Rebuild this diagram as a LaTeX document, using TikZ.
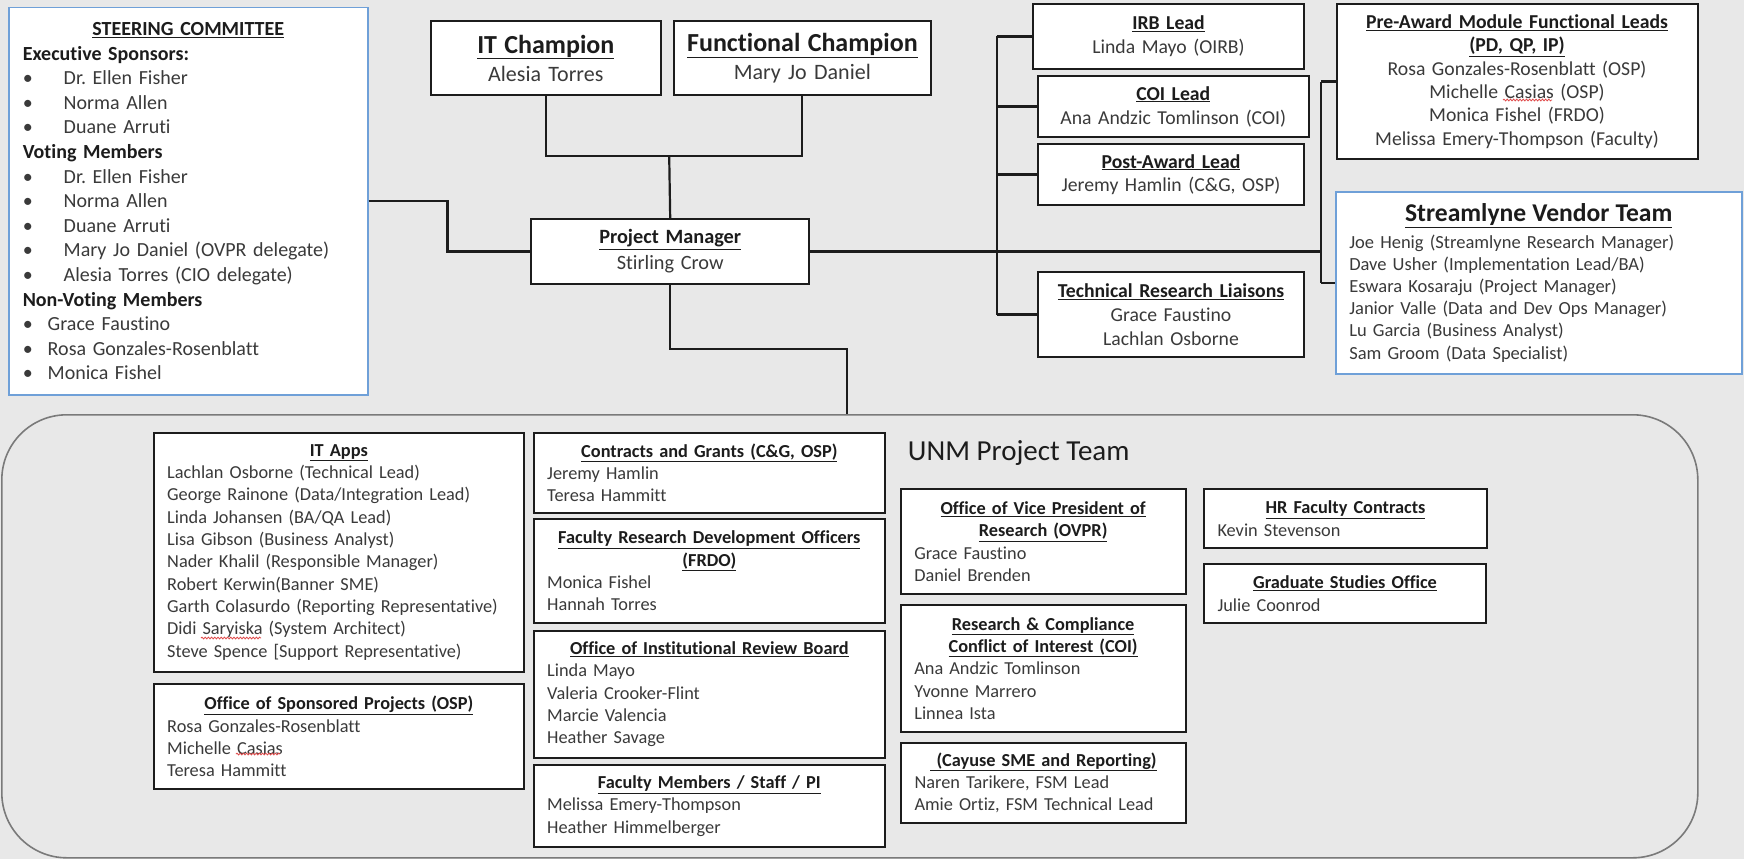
\documentclass[tikz,border=0pt]{standalone}
\usepackage{fontspec}
\setmainfont[Ligatures=NoCommon]{Carlito}
\frenchspacing
\usetikzlibrary{decorations.pathmorphing}
\definecolor{bg}{HTML}{E8E8E8}
\definecolor{ink}{HTML}{1C1C1C}
\definecolor{body}{HTML}{3A3A3A}
\definecolor{vblue}{HTML}{6FA0D8}
\definecolor{rrgray}{HTML}{7A7A7A}
\definecolor{squig}{HTML}{E04848}
\newcommand\ttl[1]{\textcolor{ink}{\textbf{\underline{#1}}}}
\newcommand\ctr[1]{\noindent\hbox to\hsize{\hfil#1\hfil}}
\newcommand\hd[1]{\textcolor{ink}{\textbf{#1}}}
\newcommand\bltA[1]{\makebox[41pt][l]{\textbullet}#1}
\newcommand\bltB[1]{\makebox[25pt][l]{\textbullet}#1}
\newcommand\orgbox[7][]{%
  \pgfmathsetmacro\obw{#5-#3}%
  \pgfmathsetmacro\obh{#6-#4}%
  \pgfmathsetmacro\obt{#5-#3-27}%
  \node[box,anchor=north west,minimum width=\obw pt,minimum height=\obh pt,text width=\obt pt,#1] (#2) at (#3,#4) {#7};}
\begin{document}
\begin{tikzpicture}[x=1pt,y=-1pt,
  box/.style={draw=ink,line width=2pt,fill=white,inner xsep=13.5pt,inner ysep=0pt,
    text=body,align=left,font=\fontsize{18.3}{22.3}\selectfont},
  cbox/.style={align=center},
  vbox/.style={draw=vblue,line width=1.5pt},
  conn/.style={draw=ink,line width=2.2pt},
  squiggle/.style={draw=squig,line width=0.8pt,decorate,
    decoration={snake,amplitude=0.9pt,segment length=3.2pt}}]
\useasboundingbox (0,0) rectangle (1744,859);
\fill[bg] (0,0) rectangle (1744,859);

% UNM project team frame
\node[draw=rrgray,line width=1.6pt,rounded corners=65pt,anchor=north west,
  minimum width=1696pt,minimum height=443pt,inner sep=0pt] (unm) at (1,414) {};
\node[anchor=west,inner sep=0pt,text=ink,font=\fontsize{29}{32}\selectfont] (unmlbl) at (907.7,453) {UNM Project Team};

% Steering committee
\orgbox[vbox,fill=white,inner xsep=14pt,font=\fontsize{20}{24.6}\selectfont]{steer}{8}{7}{366}{394}{%
\ctr{\ttl{STEERING COMMITTEE}}\\
\hd{Executive Sponsors:}\\
\bltA{Dr. Ellen Fisher}\\
\bltA{Norma Allen}\\
\bltA{Duane Arruti}\\
\hd{Voting Members}\\
\bltA{Dr. Ellen Fisher}\\
\bltA{Norma Allen}\\
\bltA{Duane Arruti}\\
\bltA{Mary Jo Daniel (OVPR delegate)}\\
\bltA{Alesia Torres (CIO delegate)}\\
\hd{Non-Voting Members}\\
\bltB{Grace Faustino}\\
\bltB{Rosa Gonzales-Rosenblatt}\\
\bltB{Monica Fishel}}

% Champions and PM
\orgbox[cbox,font=\fontsize{22}{28}\selectfont]{itc}{429.6}{20}{660}{94}{%
{\fontsize{26}{28}\selectfont\ttl{IT Champion}}\\Alesia Torres}
\orgbox[cbox,font=\fontsize{22}{28}\selectfont]{fc}{672.6}{20}{930}{94}{%
{\fontsize{26}{28}\selectfont\ttl{Functional Champion}}\\Mary Jo Daniel}
\orgbox[cbox,font=\fontsize{20.3}{26}\selectfont]{pm}{530}{218}{808.4}{283}{%
\ttl{Project Manager}\\Stirling Crow}

% Leads
\orgbox[cbox,font=\fontsize{19.7}{24}\selectfont]{irb}{1032}{3}{1303}{68}{%
\ttl{IRB Lead}\\Linda Mayo (OIRB)}
\orgbox[cbox,font=\fontsize{19.7}{24}\selectfont]{coi}{1037}{75}{1307.5}{136}{%
\ttl{COI Lead}\\Ana Andzic Tomlinson (COI)}
\orgbox[cbox,font=\fontsize{19.7}{23.4}\selectfont]{post}{1037}{143}{1303}{204}{%
\ttl{Post-Award Lead}\\Jeremy Hamlin (C\&G, OSP)}
\orgbox[cbox,font=\fontsize{19.7}{24}\selectfont]{trl}{1037}{271}{1303}{356}{%
\ttl{Technical Research Liaisons}\\Grace Faustino\\Lachlan Osborne}
\orgbox[cbox,font=\fontsize{19.7}{23.4}\selectfont]{pre}{1335.5}{3}{1696.6}{158}{%
\ttl{Pre-Award Module Functional Leads}\\\ttl{(PD, QP, IP)}\\
Rosa Gonzales-Rosenblatt (OSP)\\Michelle Casias (OSP)\\Monica Fishel (FRDO)\\
Melissa Emery-Thompson (Faculty)}
\orgbox[vbox,font=\fontsize{18.5}{22.2}\selectfont]{svt}{1335}{191}{1741}{373}{%
{\fontsize{25.6}{27}\selectfont\ctr{\ttl{Streamlyne Vendor Team}}}\\[4.6pt]
Joe Henig (Streamlyne Research Manager)\\
Dave Usher (Implementation Lead/BA)\\
Eswara Kosaraju (Project Manager)\\
Janior Valle (Data and Dev Ops Manager)\\
Lu Garcia (Business Analyst)\\
Sam Groom (Data Specialist)}

% UNM team boxes
\orgbox{itapps}{152.7}{431.7}{523}{670.7}{%
\ctr{\ttl{IT Apps}}\\
Lachlan Osborne (Technical Lead)\\
George Rainone (Data/Integration Lead)\\
Linda Johansen (BA/QA Lead)\\
Lisa Gibson (Business Analyst)\\
Nader Khalil (Responsible Manager)\\
Robert Kerwin(Banner SME)\\
Garth Colasurdo (Reporting Representative)\\
Didi Saryiska (System Architect)\\
Steve Spence [Support Representative)}
\orgbox{osp}{152.7}{683}{523}{788}{%
\ctr{\ttl{Office of Sponsored Projects (OSP)}}\\
Rosa Gonzales-Rosenblatt\\Michelle Casias\\Teresa Hammitt}
\orgbox{cg}{532.7}{431.7}{884}{512}{%
\ctr{\ttl{Contracts and Grants (C\&G, OSP)}}\\
Jeremy Hamlin\\Teresa Hammitt}
\orgbox{frdo}{532.7}{518}{884}{621.7}{%
\ctr{\ttl{Faculty Research Development Officers}}\\\ctr{\ttl{(FRDO)}}\\
Monica Fishel\\Hannah Torres}
\orgbox{oirb}{532.7}{630}{884}{756.7}{%
\ctr{\ttl{Office of Institutional Review Board}}\\
Linda Mayo\\Valeria Crooker-Flint\\Marcie Valencia\\Heather Savage}
\orgbox{fac}{532.7}{764}{884}{846}{%
\ctr{\ttl{Faculty Members / Staff / PI}}\\
Melissa Emery-Thompson\\Heather Himmelberger}
\orgbox{ovpr}{899.8}{488}{1184.5}{593}{%
\ctr{\ttl{Office of Vice President of}}\\\ctr{\ttl{Research (OVPR)}}\\
Grace Faustino\\Daniel Brenden}
\orgbox{rccoi}{899.8}{604}{1184.5}{730.7}{%
\ctr{\ttl{Research \& Compliance}}\\\ctr{\ttl{Conflict of Interest (COI)}}\\
Ana Andzic Tomlinson\\Yvonne Marrero\\Linnea Ista}
\orgbox{cay}{900}{741.7}{1185}{822}{%
\ctr{\ttl{\ (Cayuse SME and Reporting)}}\\
Naren Tarikere, FSM Lead\\Amie Ortiz, FSM Technical Lead}
\orgbox{hr}{1203}{488}{1486}{547}{%
\ctr{\ttl{HR Faculty Contracts}}\\Kevin Stevenson}
\orgbox{grad}{1203}{563}{1485}{622}{%
\ctr{\ttl{Graduate Studies Office}}\\Julie Coonrod}

% spell-check squiggles
\draw[squiggle] (1503,100) -- (1552,100);
\draw[squiggle] (236,754) -- (280,754);
\draw[squiggle] (201,638) -- (261,638);

% connectors
\coordinate (sj) at (447.5,0);
\draw[conn] (steer.east) -- (steer.east -| sj) |- (pm.west);
\coordinate (chj) at (669.2,156);
\draw[conn] (itc.south) |- (fc.south |- chj) -- (fc.south);
\draw[conn] (chj) -- (pm.north);
\coordinate (busA) at (996.7,0);
\coordinate (busB) at (1321,0);
\draw[conn] (pm.east) -- (pm.east -| busB);
\draw[conn] (irb.west -| busA) -- (trl.west -| busA);
\draw[conn] (irb.west -| busA) -- (irb.west);
\draw[conn] (coi.west -| busA) -- (coi.west);
\draw[conn] (post.west -| busA) -- (post.west);
\draw[conn] (trl.west -| busA) -- (trl.west);
\draw[conn] (pre.west -| busB) -- (svt.west -| busB);
\draw[conn] (pre.west -| busB) -- (pre.west);
\draw[conn] (svt.west -| busB) -- (svt.west);
\coordinate (pmdrop) at (847,349);
\draw[conn] (pm.south) |- (pmdrop) -- (unm.north -| pmdrop);
\end{tikzpicture}
\end{document}
